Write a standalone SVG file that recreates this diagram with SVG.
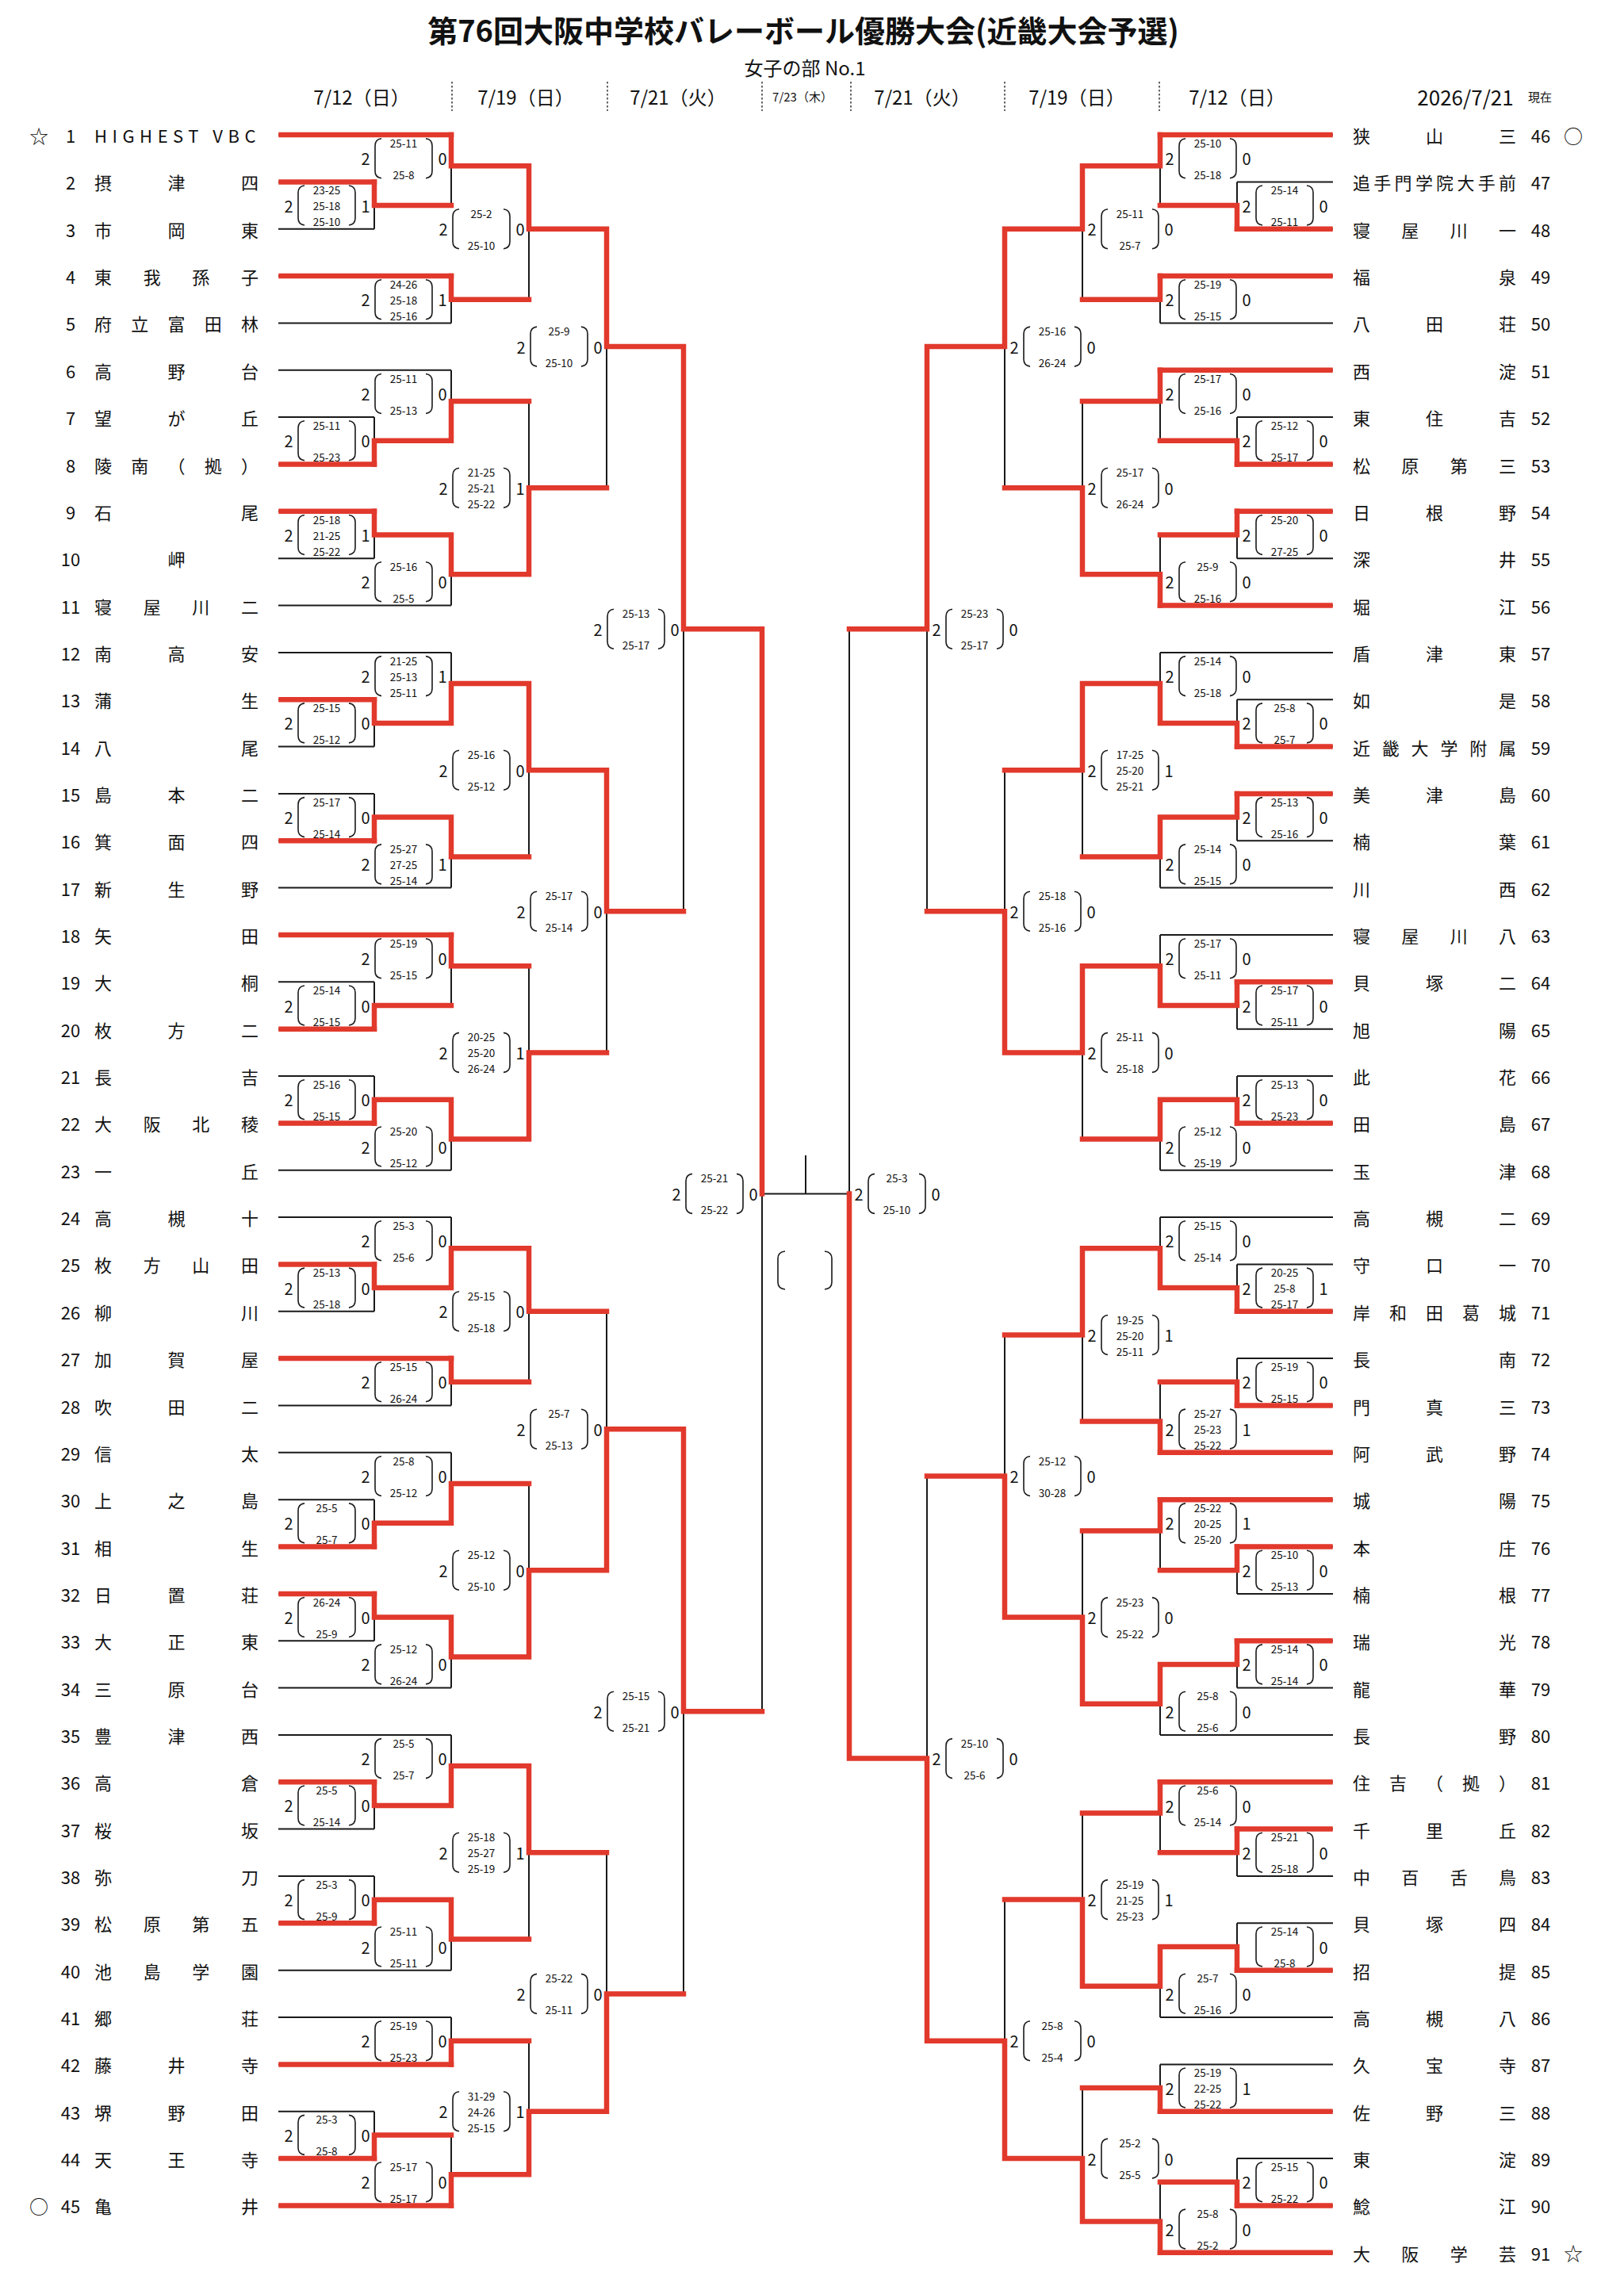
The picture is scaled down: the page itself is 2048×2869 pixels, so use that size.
<svg xmlns="http://www.w3.org/2000/svg" xmlns:xlink="http://www.w3.org/1999/xlink" width="2048" height="2869" viewBox="0 0 2048 2869">
<style>
text{font-family:"Noto Sans CJK JP","Noto Sans",sans-serif;fill:#111;dominant-baseline:central}
.ttl{font-size:38px;font-weight:700;text-anchor:middle}
.sub{font-size:24px;text-anchor:middle}
.dt{font-size:24px;text-anchor:middle}
.dts{font-size:15px;text-anchor:middle}
.nm{font-size:22px}
.no{font-size:22px;text-anchor:middle}
.mk{font-size:24px;text-anchor:middle}
.lb text{font-size:20px;text-anchor:middle}
.lb text.s{font-size:13.5px}
.bk{fill:none;stroke:#1a1a1a;stroke-width:2}
.rd{fill:none;stroke:#e1392c;stroke-width:6.5;stroke-linecap:square;stroke-linejoin:miter}
.dot{fill:none;stroke:#333;stroke-width:1.5;stroke-dasharray:2.5 2.5}
</style>
<defs>
<path id="pp" d="M-28 -25Q-36 -24 -36 -16V16Q-36 24 -28 25M28 -25Q36 -24 36 -16V16Q36 24 28 25" fill="none" stroke="#1a1a1a" stroke-width="1.6"/>
</defs>
<rect width="2048" height="2869" fill="#fff"/>
<g id="header">
<text class="ttl" x="1013" y="36">第76回大阪中学校バレーボール優勝大会(近畿大会予選)</text>
<text class="sub" x="1015" y="84">女子の部 No.1</text>
<text class="dt" x="456" y="121">7/12（日）</text>
<text class="dt" x="663" y="121">7/19（日）</text>
<text class="dt" x="855" y="121">7/21（火）</text>
<text class="dts" x="1012" y="121">7/23（木）</text>
<text class="dt" x="1163" y="121">7/21（火）</text>
<text class="dt" x="1358" y="121">7/19（日）</text>
<text class="dt" x="1560" y="121">7/12（日）</text>
<text class="dt" x="1848" y="121" style="font-size:26px">2026/7/21</text>
<text class="dts" x="1942" y="121">現在</text>
<path class="dot" d="M570 103V140M766 103V140M961 103V140M1073 103V140M1267 103V140M1462 103V140"/>
</g>
<g id="connectors">
<path class="bk" d="M351 170H569M351 229.4H472M351 288.7H472M351 348.1H569M351 407.4H569M351 466.8H569M351 526.1H472M351 585.5H472M351 644.8H472M351 704.2H472M351 763.5H569M351 822.9H569M351 882.2H472M351 941.6H472M351 1000.9H472M351 1060.3H472M351 1119.6H569M351 1179H569M351 1238.3H472M351 1297.7H472M351 1357H472M351 1416.4H472M351 1475.7H569M351 1535.1H569M351 1594.4H472M351 1653.8H472M351 1713.1H569M351 1772.5H569M351 1831.8H569M351 1891.2H472M351 1950.5H472M351 2009.9H472M351 2069.2H472M351 2128.6H569M351 2187.9H569M351 2247.3H472M351 2306.6H472M351 2366H472M351 2425.3H472M351 2484.7H569M351 2544H569M351 2603.4H569M351 2662.7H472M351 2722.1H472M351 2781.4H569"/>
<path class="bk" d="M472 229.4V288.7M472 259.05H569M569 170V259.05M569 209.2H667M569 348.1V407.4M569 377.75H667M667 209.2V377.75M667 288.7H765M472 526.1V585.5M472 555.8H569M569 466.8V555.8M569 506H667M472 644.8V704.2M472 674.5H569M569 674.5V763.5M569 724.3H667M667 506V724.3M667 615.2H765M765 288.7V615.2M765 437.1H862M472 882.2V941.6M472 911.9H569M569 822.9V911.9M569 862.1H667M472 1000.9V1060.3M472 1030.6H569M569 1030.6V1119.6M569 1080.4H667M667 862.1V1080.4M667 971.3H765M472 1238.3V1297.7M472 1268H569M569 1179V1268M569 1218.2H667M472 1357V1416.4M472 1386.7H569M569 1386.7V1475.7M569 1436.5H667M667 1218.2V1436.5M667 1327.4H765M765 971.3V1327.4M765 1149.3H862M862 437.1V1149.3M862 793.2H961M472 1594.4V1653.8M472 1624.1H569M569 1535.1V1624.1M569 1574.3H667M569 1713.1V1772.5M569 1742.8H667M667 1574.3V1742.8M667 1653.8H765M472 1891.2V1950.5M472 1920.85H569M569 1831.8V1920.85M569 1871H667M472 2009.9V2069.2M472 2039.55H569M569 2039.55V2128.6M569 2089.4H667M667 1871V2089.4M667 1980.2H765M765 1653.8V1980.2M765 1802.2H862M472 2247.3V2306.6M472 2276.95H569M569 2187.9V2276.95M569 2227.1H667M472 2366V2425.3M472 2395.65H569M569 2395.65V2484.7M569 2445.5H667M667 2227.1V2445.5M667 2336.3H765M569 2544V2603.4M569 2573.7H667M472 2662.7V2722.1M472 2692.4H569M569 2692.4V2781.4M569 2742.2H667M667 2573.7V2742.2M667 2662.7H765M765 2336.3V2662.7M765 2514.4H862M862 1802.2V2514.4M862 2158.3H961M961 793.2V2158.3M961 1505.4H1071M1016 1457V1505.4M1071 793.2V2217.6"/>
<path class="bk" d="M1463 170H1681M1560 229.4H1681M1560 288.7H1681M1463 348.1H1681M1463 407.4H1681M1463 466.8H1681M1560 526.1H1681M1560 585.5H1681M1560 644.8H1681M1560 704.2H1681M1463 763.5H1681M1463 822.9H1681M1560 882.2H1681M1560 941.6H1681M1560 1000.9H1681M1560 1060.3H1681M1463 1119.6H1681M1463 1179H1681M1560 1238.3H1681M1560 1297.7H1681M1560 1357H1681M1560 1416.4H1681M1463 1475.7H1681M1463 1535.1H1681M1560 1594.4H1681M1560 1653.8H1681M1560 1713.1H1681M1560 1772.5H1681M1463 1831.8H1681M1463 1891.2H1681M1560 1950.5H1681M1560 2009.9H1681M1560 2069.2H1681M1560 2128.6H1681M1463 2187.9H1681M1463 2247.3H1681M1560 2306.6H1681M1560 2366H1681M1560 2425.3H1681M1560 2484.7H1681M1463 2544H1681M1463 2603.4H1681M1463 2662.7H1681M1560 2722.1H1681M1560 2781.4H1681M1463 2840.8H1681"/>
<path class="bk" d="M1560 229.4V288.7M1560 259.05H1463M1463 170V259.05M1463 209.2H1365M1463 348.1V407.4M1463 377.75H1365M1365 209.2V377.75M1365 288.7H1267M1560 526.1V585.5M1560 555.8H1463M1463 466.8V555.8M1463 506H1365M1560 644.8V704.2M1560 674.5H1463M1463 674.5V763.5M1463 724.3H1365M1365 506V724.3M1365 615.2H1267M1267 288.7V615.2M1267 437.1H1169M1560 882.2V941.6M1560 911.9H1463M1463 822.9V911.9M1463 862.1H1365M1560 1000.9V1060.3M1560 1030.6H1463M1463 1030.6V1119.6M1463 1080.4H1365M1365 862.1V1080.4M1365 971.3H1267M1560 1238.3V1297.7M1560 1268H1463M1463 1179V1268M1463 1218.2H1365M1560 1357V1416.4M1560 1386.7H1463M1463 1386.7V1475.7M1463 1436.5H1365M1365 1218.2V1436.5M1365 1327.4H1267M1267 971.3V1327.4M1267 1149.3H1169M1169 437.1V1149.3M1169 793.2H1071M1560 1594.4V1653.8M1560 1624.1H1463M1463 1535.1V1624.1M1463 1574.3H1365M1560 1713.1V1772.5M1560 1742.8H1463M1463 1742.8V1831.8M1463 1792.6H1365M1365 1574.3V1792.6M1365 1683.5H1267M1560 1950.5V2009.9M1560 1980.2H1463M1463 1891.2V1980.2M1463 1930.4H1365M1560 2069.2V2128.6M1560 2098.9H1463M1463 2098.9V2187.9M1463 2148.7H1365M1365 1930.4V2148.7M1365 2039.6H1267M1267 1683.5V2039.6M1267 1861.5H1169M1560 2306.6V2366M1560 2336.3H1463M1463 2247.3V2336.3M1463 2286.5H1365M1560 2425.3V2484.7M1560 2455H1463M1463 2455V2544M1463 2504.8H1365M1365 2286.5V2504.8M1365 2395.6H1267M1463 2603.4V2662.7M1463 2633.05H1365M1560 2722.1V2781.4M1560 2751.75H1463M1463 2751.75V2840.8M1463 2801.6H1365M1365 2633.05V2801.6M1365 2722.1H1267M1267 2395.6V2722.1M1267 2573.7H1169M1169 1861.5V2573.7M1169 2217.6H1071"/>
<path d="M990 1578Q981 1579 981 1587V1617Q981 1625 990 1626M1040 1578Q1049 1579 1049 1587V1617Q1049 1625 1040 1626" fill="none" stroke="#1a1a1a" stroke-width="1.6"/>
<path class="rd" d="M354.5 170H569M354.5 229.4H472M354.5 348.1H569M354.5 585.5H472M354.5 644.8H472M354.5 882.2H472M354.5 1060.3H472M354.5 1179H569M354.5 1297.7H472M354.5 1416.4H472M354.5 1594.4H472M354.5 1713.1H569M354.5 1950.5H472M354.5 2009.9H472M354.5 2247.3H472M354.5 2425.3H472M354.5 2603.4H569M354.5 2722.1H472M354.5 2781.4H569"/>
<path class="rd" d="M472 229.4V259.05H569M569 170V209.2H667M569 348.1V377.75H667M667 209.2V288.7H765M472 585.5V555.8H569M569 555.8V506H667M472 644.8V674.5H569M569 674.5V724.3H667M667 724.3V615.2H765M765 288.7V437.1H862M472 882.2V911.9H569M569 911.9V862.1H667M472 1060.3V1030.6H569M569 1030.6V1080.4H667M667 862.1V971.3H765M472 1297.7V1268H569M569 1179V1218.2H667M472 1416.4V1386.7H569M569 1386.7V1436.5H667M667 1436.5V1327.4H765M765 971.3V1149.3H862M862 437.1V793.2H961M472 1594.4V1624.1H569M569 1624.1V1574.3H667M569 1713.1V1742.8H667M667 1574.3V1653.8H765M472 1950.5V1920.85H569M569 1920.85V1871H667M472 2009.9V2039.55H569M569 2039.55V2089.4H667M667 2089.4V1980.2H765M765 1980.2V1802.2H862M472 2247.3V2276.95H569M569 2276.95V2227.1H667M472 2425.3V2395.65H569M569 2395.65V2445.5H667M667 2227.1V2336.3H765M569 2603.4V2573.7H667M472 2722.1V2692.4H569M569 2781.4V2742.2H667M667 2742.2V2662.7H765M765 2662.7V2514.4H862M862 1802.2V2158.3H961M961 793.2V1505.4"/>
<path class="rd" d="M1463 170H1677.5M1560 288.7H1677.5M1463 348.1H1677.5M1463 466.8H1677.5M1560 585.5H1677.5M1560 644.8H1677.5M1463 763.5H1677.5M1560 941.6H1677.5M1560 1000.9H1677.5M1560 1238.3H1677.5M1560 1416.4H1677.5M1560 1653.8H1677.5M1560 1772.5H1677.5M1463 1831.8H1677.5M1463 1891.2H1677.5M1560 1950.5H1677.5M1560 2069.2H1677.5M1463 2247.3H1677.5M1560 2306.6H1677.5M1560 2484.7H1677.5M1463 2662.7H1677.5M1560 2781.4H1677.5M1463 2840.8H1677.5"/>
<path class="rd" d="M1560 288.7V259.05H1463M1463 170V209.2H1365M1463 348.1V377.75H1365M1365 209.2V288.7H1267M1560 585.5V555.8H1463M1463 466.8V506H1365M1560 644.8V674.5H1463M1463 763.5V724.3H1365M1365 724.3V615.2H1267M1267 288.7V437.1H1169M1560 941.6V911.9H1463M1463 911.9V862.1H1365M1560 1000.9V1030.6H1463M1463 1030.6V1080.4H1365M1365 862.1V971.3H1267M1560 1238.3V1268H1463M1463 1268V1218.2H1365M1560 1416.4V1386.7H1463M1463 1386.7V1436.5H1365M1365 1218.2V1327.4H1267M1267 1327.4V1149.3H1169M1169 437.1V793.2H1071M1560 1653.8V1624.1H1463M1463 1624.1V1574.3H1365M1560 1772.5V1742.8H1463M1463 1831.8V1792.6H1365M1365 1574.3V1683.5H1267M1560 1950.5V1980.2H1463M1463 1891.2V1930.4H1365M1560 2069.2V2098.9H1463M1463 2098.9V2148.7H1365M1365 2148.7V2039.6H1267M1267 2039.6V1861.5H1169M1560 2306.6V2336.3H1463M1463 2247.3V2286.5H1365M1560 2484.7V2455H1463M1463 2455V2504.8H1365M1365 2504.8V2395.6H1267M1463 2662.7V2633.05H1365M1560 2781.4V2751.75H1463M1463 2840.8V2801.6H1365M1365 2801.6V2722.1H1267M1267 2722.1V2573.7H1169M1169 2573.7V2217.6H1071M1071 2217.6V1505.4"/>
</g>
<g id="teams-left">
<g id="t1"><text class="mk" x="49" y="170">☆</text><text class="no" x="89" y="170">1</text><text class="nm" x="119" y="170" letter-spacing="6.5">HIGHEST VBC</text></g>
<g id="t2"><text class="no" x="89" y="229.4">2</text><text class="nm" x="119 211.5 304" y="229.4">摂津四</text></g>
<g id="t3"><text class="no" x="89" y="288.7">3</text><text class="nm" x="119 211.5 304" y="288.7">市岡東</text></g>
<g id="t4"><text class="no" x="89" y="348.1">4</text><text class="nm" x="119 180.7 242.3 304" y="348.1">東我孫子</text></g>
<g id="t5"><text class="no" x="89" y="407.4">5</text><text class="nm" x="119 165.3 211.5 257.8 304" y="407.4">府立富田林</text></g>
<g id="t6"><text class="no" x="89" y="466.8">6</text><text class="nm" x="119 211.5 304" y="466.8">高野台</text></g>
<g id="t7"><text class="no" x="89" y="526.1">7</text><text class="nm" x="119 211.5 304" y="526.1">望が丘</text></g>
<g id="t8"><text class="no" x="89" y="585.5">8</text><text class="nm" x="119 165.3 211.5 257.8 304" y="585.5">陵南（拠）</text></g>
<g id="t9"><text class="no" x="89" y="644.8">9</text><text class="nm" x="119 304" y="644.8">石尾</text></g>
<g id="t10"><text class="no" x="89" y="704.2">10</text><text class="nm" x="211.5" y="704.2">岬</text></g>
<g id="t11"><text class="no" x="89" y="763.5">11</text><text class="nm" x="119 180.7 242.3 304" y="763.5">寝屋川二</text></g>
<g id="t12"><text class="no" x="89" y="822.9">12</text><text class="nm" x="119 211.5 304" y="822.9">南高安</text></g>
<g id="t13"><text class="no" x="89" y="882.2">13</text><text class="nm" x="119 304" y="882.2">蒲生</text></g>
<g id="t14"><text class="no" x="89" y="941.6">14</text><text class="nm" x="119 304" y="941.6">八尾</text></g>
<g id="t15"><text class="no" x="89" y="1000.9">15</text><text class="nm" x="119 211.5 304" y="1000.9">島本二</text></g>
<g id="t16"><text class="no" x="89" y="1060.3">16</text><text class="nm" x="119 211.5 304" y="1060.3">箕面四</text></g>
<g id="t17"><text class="no" x="89" y="1119.6">17</text><text class="nm" x="119 211.5 304" y="1119.6">新生野</text></g>
<g id="t18"><text class="no" x="89" y="1179">18</text><text class="nm" x="119 304" y="1179">矢田</text></g>
<g id="t19"><text class="no" x="89" y="1238.3">19</text><text class="nm" x="119 304" y="1238.3">大桐</text></g>
<g id="t20"><text class="no" x="89" y="1297.7">20</text><text class="nm" x="119 211.5 304" y="1297.7">枚方二</text></g>
<g id="t21"><text class="no" x="89" y="1357">21</text><text class="nm" x="119 304" y="1357">長吉</text></g>
<g id="t22"><text class="no" x="89" y="1416.4">22</text><text class="nm" x="119 180.7 242.3 304" y="1416.4">大阪北稜</text></g>
<g id="t23"><text class="no" x="89" y="1475.7">23</text><text class="nm" x="119 304" y="1475.7">一丘</text></g>
<g id="t24"><text class="no" x="89" y="1535.1">24</text><text class="nm" x="119 211.5 304" y="1535.1">高槻十</text></g>
<g id="t25"><text class="no" x="89" y="1594.4">25</text><text class="nm" x="119 180.7 242.3 304" y="1594.4">枚方山田</text></g>
<g id="t26"><text class="no" x="89" y="1653.8">26</text><text class="nm" x="119 304" y="1653.8">柳川</text></g>
<g id="t27"><text class="no" x="89" y="1713.1">27</text><text class="nm" x="119 211.5 304" y="1713.1">加賀屋</text></g>
<g id="t28"><text class="no" x="89" y="1772.5">28</text><text class="nm" x="119 211.5 304" y="1772.5">吹田二</text></g>
<g id="t29"><text class="no" x="89" y="1831.8">29</text><text class="nm" x="119 304" y="1831.8">信太</text></g>
<g id="t30"><text class="no" x="89" y="1891.2">30</text><text class="nm" x="119 211.5 304" y="1891.2">上之島</text></g>
<g id="t31"><text class="no" x="89" y="1950.5">31</text><text class="nm" x="119 304" y="1950.5">相生</text></g>
<g id="t32"><text class="no" x="89" y="2009.9">32</text><text class="nm" x="119 211.5 304" y="2009.9">日置荘</text></g>
<g id="t33"><text class="no" x="89" y="2069.2">33</text><text class="nm" x="119 211.5 304" y="2069.2">大正東</text></g>
<g id="t34"><text class="no" x="89" y="2128.6">34</text><text class="nm" x="119 211.5 304" y="2128.6">三原台</text></g>
<g id="t35"><text class="no" x="89" y="2187.9">35</text><text class="nm" x="119 211.5 304" y="2187.9">豊津西</text></g>
<g id="t36"><text class="no" x="89" y="2247.3">36</text><text class="nm" x="119 304" y="2247.3">高倉</text></g>
<g id="t37"><text class="no" x="89" y="2306.6">37</text><text class="nm" x="119 304" y="2306.6">桜坂</text></g>
<g id="t38"><text class="no" x="89" y="2366">38</text><text class="nm" x="119 304" y="2366">弥刀</text></g>
<g id="t39"><text class="no" x="89" y="2425.3">39</text><text class="nm" x="119 180.7 242.3 304" y="2425.3">松原第五</text></g>
<g id="t40"><text class="no" x="89" y="2484.7">40</text><text class="nm" x="119 180.7 242.3 304" y="2484.7">池島学園</text></g>
<g id="t41"><text class="no" x="89" y="2544">41</text><text class="nm" x="119 304" y="2544">郷荘</text></g>
<g id="t42"><text class="no" x="89" y="2603.4">42</text><text class="nm" x="119 211.5 304" y="2603.4">藤井寺</text></g>
<g id="t43"><text class="no" x="89" y="2662.7">43</text><text class="nm" x="119 211.5 304" y="2662.7">堺野田</text></g>
<g id="t44"><text class="no" x="89" y="2722.1">44</text><text class="nm" x="119 211.5 304" y="2722.1">天王寺</text></g>
<g id="t45"><text class="mk" x="49" y="2781.4">○</text><text class="no" x="89" y="2781.4">45</text><text class="nm" x="119 304" y="2781.4">亀井</text></g>
</g>
<g id="teams-right">
<g id="t46"><text class="nm" x="1706 1798 1890" y="170">狭山三</text><text class="no" x="1943" y="170">46</text><text class="mk" x="1984" y="170">○</text></g>
<g id="t47"><text class="nm" x="1706 1732.3 1758.6 1784.9 1811.1 1837.4 1863.7 1890" y="229.4">追手門学院大手前</text><text class="no" x="1943" y="229.4">47</text></g>
<g id="t48"><text class="nm" x="1706 1767.3 1828.7 1890" y="288.7">寝屋川一</text><text class="no" x="1943" y="288.7">48</text></g>
<g id="t49"><text class="nm" x="1706 1890" y="348.1">福泉</text><text class="no" x="1943" y="348.1">49</text></g>
<g id="t50"><text class="nm" x="1706 1798 1890" y="407.4">八田荘</text><text class="no" x="1943" y="407.4">50</text></g>
<g id="t51"><text class="nm" x="1706 1890" y="466.8">西淀</text><text class="no" x="1943" y="466.8">51</text></g>
<g id="t52"><text class="nm" x="1706 1798 1890" y="526.1">東住吉</text><text class="no" x="1943" y="526.1">52</text></g>
<g id="t53"><text class="nm" x="1706 1767.3 1828.7 1890" y="585.5">松原第三</text><text class="no" x="1943" y="585.5">53</text></g>
<g id="t54"><text class="nm" x="1706 1798 1890" y="644.8">日根野</text><text class="no" x="1943" y="644.8">54</text></g>
<g id="t55"><text class="nm" x="1706 1890" y="704.2">深井</text><text class="no" x="1943" y="704.2">55</text></g>
<g id="t56"><text class="nm" x="1706 1890" y="763.5">堀江</text><text class="no" x="1943" y="763.5">56</text></g>
<g id="t57"><text class="nm" x="1706 1798 1890" y="822.9">盾津東</text><text class="no" x="1943" y="822.9">57</text></g>
<g id="t58"><text class="nm" x="1706 1890" y="882.2">如是</text><text class="no" x="1943" y="882.2">58</text></g>
<g id="t59"><text class="nm" x="1706 1742.8 1779.6 1816.4 1853.2 1890" y="941.6">近畿大学附属</text><text class="no" x="1943" y="941.6">59</text></g>
<g id="t60"><text class="nm" x="1706 1798 1890" y="1000.9">美津島</text><text class="no" x="1943" y="1000.9">60</text></g>
<g id="t61"><text class="nm" x="1706 1890" y="1060.3">楠葉</text><text class="no" x="1943" y="1060.3">61</text></g>
<g id="t62"><text class="nm" x="1706 1890" y="1119.6">川西</text><text class="no" x="1943" y="1119.6">62</text></g>
<g id="t63"><text class="nm" x="1706 1767.3 1828.7 1890" y="1179">寝屋川八</text><text class="no" x="1943" y="1179">63</text></g>
<g id="t64"><text class="nm" x="1706 1798 1890" y="1238.3">貝塚二</text><text class="no" x="1943" y="1238.3">64</text></g>
<g id="t65"><text class="nm" x="1706 1890" y="1297.7">旭陽</text><text class="no" x="1943" y="1297.7">65</text></g>
<g id="t66"><text class="nm" x="1706 1890" y="1357">此花</text><text class="no" x="1943" y="1357">66</text></g>
<g id="t67"><text class="nm" x="1706 1890" y="1416.4">田島</text><text class="no" x="1943" y="1416.4">67</text></g>
<g id="t68"><text class="nm" x="1706 1890" y="1475.7">玉津</text><text class="no" x="1943" y="1475.7">68</text></g>
<g id="t69"><text class="nm" x="1706 1798 1890" y="1535.1">高槻二</text><text class="no" x="1943" y="1535.1">69</text></g>
<g id="t70"><text class="nm" x="1706 1798 1890" y="1594.4">守口一</text><text class="no" x="1943" y="1594.4">70</text></g>
<g id="t71"><text class="nm" x="1706 1752 1798 1844 1890" y="1653.8">岸和田葛城</text><text class="no" x="1943" y="1653.8">71</text></g>
<g id="t72"><text class="nm" x="1706 1890" y="1713.1">長南</text><text class="no" x="1943" y="1713.1">72</text></g>
<g id="t73"><text class="nm" x="1706 1798 1890" y="1772.5">門真三</text><text class="no" x="1943" y="1772.5">73</text></g>
<g id="t74"><text class="nm" x="1706 1798 1890" y="1831.8">阿武野</text><text class="no" x="1943" y="1831.8">74</text></g>
<g id="t75"><text class="nm" x="1706 1890" y="1891.2">城陽</text><text class="no" x="1943" y="1891.2">75</text></g>
<g id="t76"><text class="nm" x="1706 1890" y="1950.5">本庄</text><text class="no" x="1943" y="1950.5">76</text></g>
<g id="t77"><text class="nm" x="1706 1890" y="2009.9">楠根</text><text class="no" x="1943" y="2009.9">77</text></g>
<g id="t78"><text class="nm" x="1706 1890" y="2069.2">瑞光</text><text class="no" x="1943" y="2069.2">78</text></g>
<g id="t79"><text class="nm" x="1706 1890" y="2128.6">龍華</text><text class="no" x="1943" y="2128.6">79</text></g>
<g id="t80"><text class="nm" x="1706 1890" y="2187.9">長野</text><text class="no" x="1943" y="2187.9">80</text></g>
<g id="t81"><text class="nm" x="1706 1752 1798 1844 1890" y="2247.3">住吉（拠）</text><text class="no" x="1943" y="2247.3">81</text></g>
<g id="t82"><text class="nm" x="1706 1798 1890" y="2306.6">千里丘</text><text class="no" x="1943" y="2306.6">82</text></g>
<g id="t83"><text class="nm" x="1706 1767.3 1828.7 1890" y="2366">中百舌鳥</text><text class="no" x="1943" y="2366">83</text></g>
<g id="t84"><text class="nm" x="1706 1798 1890" y="2425.3">貝塚四</text><text class="no" x="1943" y="2425.3">84</text></g>
<g id="t85"><text class="nm" x="1706 1890" y="2484.7">招提</text><text class="no" x="1943" y="2484.7">85</text></g>
<g id="t86"><text class="nm" x="1706 1798 1890" y="2544">高槻八</text><text class="no" x="1943" y="2544">86</text></g>
<g id="t87"><text class="nm" x="1706 1798 1890" y="2603.4">久宝寺</text><text class="no" x="1943" y="2603.4">87</text></g>
<g id="t88"><text class="nm" x="1706 1798 1890" y="2662.7">佐野三</text><text class="no" x="1943" y="2662.7">88</text></g>
<g id="t89"><text class="nm" x="1706 1890" y="2722.1">東淀</text><text class="no" x="1943" y="2722.1">89</text></g>
<g id="t90"><text class="nm" x="1706 1890" y="2781.4">鯰江</text><text class="no" x="1943" y="2781.4">90</text></g>
<g id="t91"><text class="nm" x="1706 1767.3 1828.7 1890" y="2840.8">大阪学芸</text><text class="no" x="1943" y="2840.8">91</text><text class="mk" x="1984" y="2840.8">☆</text></g>
</g>
<g id="scores" class="lb">
<g id="mA1" transform="translate(412 259.05)"><text x="-48">2</text><use href="#pp"/><text class="s" y="-20">23-25</text><text class="s">25-18</text><text class="s" y="20">25-10</text><text x="49">1</text></g>
<g id="mA2" transform="translate(509 199.7)"><text x="-48">2</text><use href="#pp"/><text class="s" y="-20">25-11</text><text class="s" y="20">25-8</text><text x="49">0</text></g>
<g id="mA3" transform="translate(509 377.75)"><text x="-48">2</text><use href="#pp"/><text class="s" y="-20">24-26</text><text class="s">25-18</text><text class="s" y="20">25-16</text><text x="49">1</text></g>
<g id="mA4" transform="translate(607 288.7)"><text x="-48">2</text><use href="#pp"/><text class="s" y="-20">25-2</text><text class="s" y="20">25-10</text><text x="49">0</text></g>
<g id="mB1" transform="translate(412 555.8)"><text x="-48">2</text><use href="#pp"/><text class="s" y="-20">25-11</text><text class="s" y="20">25-23</text><text x="49">0</text></g>
<g id="mB2" transform="translate(509 496.5)"><text x="-48">2</text><use href="#pp"/><text class="s" y="-20">25-11</text><text class="s" y="20">25-13</text><text x="49">0</text></g>
<g id="mB3" transform="translate(412 674.5)"><text x="-48">2</text><use href="#pp"/><text class="s" y="-20">25-18</text><text class="s">21-25</text><text class="s" y="20">25-22</text><text x="49">1</text></g>
<g id="mB4" transform="translate(509 733.8)"><text x="-48">2</text><use href="#pp"/><text class="s" y="-20">25-16</text><text class="s" y="20">25-5</text><text x="49">0</text></g>
<g id="mB5" transform="translate(607 615.2)"><text x="-48">2</text><use href="#pp"/><text class="s" y="-20">21-25</text><text class="s">25-21</text><text class="s" y="20">25-22</text><text x="49">1</text></g>
<g id="mQ1a" transform="translate(705 437.1)"><text x="-48">2</text><use href="#pp"/><text class="s" y="-20">25-9</text><text class="s" y="20">25-10</text><text x="49">0</text></g>
<g id="mC1" transform="translate(412 911.9)"><text x="-48">2</text><use href="#pp"/><text class="s" y="-20">25-15</text><text class="s" y="20">25-12</text><text x="49">0</text></g>
<g id="mC2" transform="translate(509 852.6)"><text x="-48">2</text><use href="#pp"/><text class="s" y="-20">21-25</text><text class="s">25-13</text><text class="s" y="20">25-11</text><text x="49">1</text></g>
<g id="mC3" transform="translate(412 1030.6)"><text x="-48">2</text><use href="#pp"/><text class="s" y="-20">25-17</text><text class="s" y="20">25-14</text><text x="49">0</text></g>
<g id="mC4" transform="translate(509 1089.9)"><text x="-48">2</text><use href="#pp"/><text class="s" y="-20">25-27</text><text class="s">27-25</text><text class="s" y="20">25-14</text><text x="49">1</text></g>
<g id="mC5" transform="translate(607 971.3)"><text x="-48">2</text><use href="#pp"/><text class="s" y="-20">25-16</text><text class="s" y="20">25-12</text><text x="49">0</text></g>
<g id="mD1" transform="translate(412 1268)"><text x="-48">2</text><use href="#pp"/><text class="s" y="-20">25-14</text><text class="s" y="20">25-15</text><text x="49">0</text></g>
<g id="mD2" transform="translate(509 1208.7)"><text x="-48">2</text><use href="#pp"/><text class="s" y="-20">25-19</text><text class="s" y="20">25-15</text><text x="49">0</text></g>
<g id="mD4" transform="translate(412 1386.7)"><text x="-48">2</text><use href="#pp"/><text class="s" y="-20">25-16</text><text class="s" y="20">25-15</text><text x="49">0</text></g>
<g id="mD5" transform="translate(509 1446)"><text x="-48">2</text><use href="#pp"/><text class="s" y="-20">25-20</text><text class="s" y="20">25-12</text><text x="49">0</text></g>
<g id="mD3" transform="translate(607 1327.4)"><text x="-48">2</text><use href="#pp"/><text class="s" y="-20">20-25</text><text class="s">25-20</text><text class="s" y="20">26-24</text><text x="49">1</text></g>
<g id="mQ2a" transform="translate(705 1149.3)"><text x="-48">2</text><use href="#pp"/><text class="s" y="-20">25-17</text><text class="s" y="20">25-14</text><text x="49">0</text></g>
<g id="mQ12" transform="translate(802 793.2)"><text x="-48">2</text><use href="#pp"/><text class="s" y="-20">25-13</text><text class="s" y="20">25-17</text><text x="49">0</text></g>
<g id="mE1" transform="translate(412 1624.1)"><text x="-48">2</text><use href="#pp"/><text class="s" y="-20">25-13</text><text class="s" y="20">25-18</text><text x="49">0</text></g>
<g id="mE2" transform="translate(509 1564.8)"><text x="-48">2</text><use href="#pp"/><text class="s" y="-20">25-3</text><text class="s" y="20">25-6</text><text x="49">0</text></g>
<g id="mE3" transform="translate(509 1742.8)"><text x="-48">2</text><use href="#pp"/><text class="s" y="-20">25-15</text><text class="s" y="20">26-24</text><text x="49">0</text></g>
<g id="mE4" transform="translate(607 1653.8)"><text x="-48">2</text><use href="#pp"/><text class="s" y="-20">25-15</text><text class="s" y="20">25-18</text><text x="49">0</text></g>
<g id="mF1" transform="translate(412 1920.85)"><text x="-48">2</text><use href="#pp"/><text class="s" y="-20">25-5</text><text class="s" y="20">25-7</text><text x="49">0</text></g>
<g id="mF2" transform="translate(509 1861.5)"><text x="-48">2</text><use href="#pp"/><text class="s" y="-20">25-8</text><text class="s" y="20">25-12</text><text x="49">0</text></g>
<g id="mF3" transform="translate(412 2039.55)"><text x="-48">2</text><use href="#pp"/><text class="s" y="-20">26-24</text><text class="s" y="20">25-9</text><text x="49">0</text></g>
<g id="mF4" transform="translate(509 2098.9)"><text x="-48">2</text><use href="#pp"/><text class="s" y="-20">25-12</text><text class="s" y="20">26-24</text><text x="49">0</text></g>
<g id="mF5" transform="translate(607 1980.2)"><text x="-48">2</text><use href="#pp"/><text class="s" y="-20">25-12</text><text class="s" y="20">25-10</text><text x="49">0</text></g>
<g id="mQ3a" transform="translate(705 1802.2)"><text x="-48">2</text><use href="#pp"/><text class="s" y="-20">25-7</text><text class="s" y="20">25-13</text><text x="49">0</text></g>
<g id="mG1" transform="translate(412 2276.95)"><text x="-48">2</text><use href="#pp"/><text class="s" y="-20">25-5</text><text class="s" y="20">25-14</text><text x="49">0</text></g>
<g id="mG2" transform="translate(509 2217.6)"><text x="-48">2</text><use href="#pp"/><text class="s" y="-20">25-5</text><text class="s" y="20">25-7</text><text x="49">0</text></g>
<g id="mG3" transform="translate(412 2395.65)"><text x="-48">2</text><use href="#pp"/><text class="s" y="-20">25-3</text><text class="s" y="20">25-9</text><text x="49">0</text></g>
<g id="mG4" transform="translate(509 2455)"><text x="-48">2</text><use href="#pp"/><text class="s" y="-20">25-11</text><text class="s" y="20">25-11</text><text x="49">0</text></g>
<g id="mG5" transform="translate(607 2336.3)"><text x="-48">2</text><use href="#pp"/><text class="s" y="-20">25-18</text><text class="s">25-27</text><text class="s" y="20">25-19</text><text x="49">1</text></g>
<g id="mH1" transform="translate(509 2573.7)"><text x="-48">2</text><use href="#pp"/><text class="s" y="-20">25-19</text><text class="s" y="20">25-23</text><text x="49">0</text></g>
<g id="mH2" transform="translate(412 2692.4)"><text x="-48">2</text><use href="#pp"/><text class="s" y="-20">25-3</text><text class="s" y="20">25-8</text><text x="49">0</text></g>
<g id="mH3" transform="translate(509 2751.7)"><text x="-48">2</text><use href="#pp"/><text class="s" y="-20">25-17</text><text class="s" y="20">25-17</text><text x="49">0</text></g>
<g id="mH4" transform="translate(607 2662.7)"><text x="-48">2</text><use href="#pp"/><text class="s" y="-20">31-29</text><text class="s">24-26</text><text class="s" y="20">25-15</text><text x="49">1</text></g>
<g id="mQ4a" transform="translate(705 2514.4)"><text x="-48">2</text><use href="#pp"/><text class="s" y="-20">25-22</text><text class="s" y="20">25-11</text><text x="49">0</text></g>
<g id="mQ34" transform="translate(802 2158.3)"><text x="-48">2</text><use href="#pp"/><text class="s" y="-20">25-15</text><text class="s" y="20">25-21</text><text x="49">0</text></g>
<g id="mSL" transform="translate(901 1505.4)"><text x="-48">2</text><use href="#pp"/><text class="s" y="-20">25-21</text><text class="s" y="20">25-22</text><text x="49">0</text></g>
<g id="mRA1" transform="translate(1620 259.05)"><text x="-48">2</text><use href="#pp"/><text class="s" y="-20">25-14</text><text class="s" y="20">25-11</text><text x="49">0</text></g>
<g id="mRA2" transform="translate(1523 199.7)"><text x="-48">2</text><use href="#pp"/><text class="s" y="-20">25-10</text><text class="s" y="20">25-18</text><text x="49">0</text></g>
<g id="mRA3" transform="translate(1523 377.75)"><text x="-48">2</text><use href="#pp"/><text class="s" y="-20">25-19</text><text class="s" y="20">25-15</text><text x="49">0</text></g>
<g id="mRA4" transform="translate(1425 288.7)"><text x="-48">2</text><use href="#pp"/><text class="s" y="-20">25-11</text><text class="s" y="20">25-7</text><text x="49">0</text></g>
<g id="mRB1" transform="translate(1620 555.8)"><text x="-48">2</text><use href="#pp"/><text class="s" y="-20">25-12</text><text class="s" y="20">25-17</text><text x="49">0</text></g>
<g id="mRB2" transform="translate(1523 496.5)"><text x="-48">2</text><use href="#pp"/><text class="s" y="-20">25-17</text><text class="s" y="20">25-16</text><text x="49">0</text></g>
<g id="mRB3" transform="translate(1620 674.5)"><text x="-48">2</text><use href="#pp"/><text class="s" y="-20">25-20</text><text class="s" y="20">27-25</text><text x="49">0</text></g>
<g id="mRB4" transform="translate(1523 733.8)"><text x="-48">2</text><use href="#pp"/><text class="s" y="-20">25-9</text><text class="s" y="20">25-16</text><text x="49">0</text></g>
<g id="mRB5" transform="translate(1425 615.2)"><text x="-48">2</text><use href="#pp"/><text class="s" y="-20">25-17</text><text class="s" y="20">26-24</text><text x="49">0</text></g>
<g id="mQ1R" transform="translate(1327 437.1)"><text x="-48">2</text><use href="#pp"/><text class="s" y="-20">25-16</text><text class="s" y="20">26-24</text><text x="49">0</text></g>
<g id="mRC1" transform="translate(1620 911.9)"><text x="-48">2</text><use href="#pp"/><text class="s" y="-20">25-8</text><text class="s" y="20">25-7</text><text x="49">0</text></g>
<g id="mRC2" transform="translate(1523 852.6)"><text x="-48">2</text><use href="#pp"/><text class="s" y="-20">25-14</text><text class="s" y="20">25-18</text><text x="49">0</text></g>
<g id="mRC3" transform="translate(1620 1030.6)"><text x="-48">2</text><use href="#pp"/><text class="s" y="-20">25-13</text><text class="s" y="20">25-16</text><text x="49">0</text></g>
<g id="mRC4" transform="translate(1523 1089.9)"><text x="-48">2</text><use href="#pp"/><text class="s" y="-20">25-14</text><text class="s" y="20">25-15</text><text x="49">0</text></g>
<g id="mRC5" transform="translate(1425 971.3)"><text x="-48">2</text><use href="#pp"/><text class="s" y="-20">17-25</text><text class="s">25-20</text><text class="s" y="20">25-21</text><text x="49">1</text></g>
<g id="mRD1" transform="translate(1620 1268)"><text x="-48">2</text><use href="#pp"/><text class="s" y="-20">25-17</text><text class="s" y="20">25-11</text><text x="49">0</text></g>
<g id="mRD2" transform="translate(1523 1208.7)"><text x="-48">2</text><use href="#pp"/><text class="s" y="-20">25-17</text><text class="s" y="20">25-11</text><text x="49">0</text></g>
<g id="mRD3" transform="translate(1620 1386.7)"><text x="-48">2</text><use href="#pp"/><text class="s" y="-20">25-13</text><text class="s" y="20">25-23</text><text x="49">0</text></g>
<g id="mRD4" transform="translate(1523 1446)"><text x="-48">2</text><use href="#pp"/><text class="s" y="-20">25-12</text><text class="s" y="20">25-19</text><text x="49">0</text></g>
<g id="mRD5" transform="translate(1425 1327.4)"><text x="-48">2</text><use href="#pp"/><text class="s" y="-20">25-11</text><text class="s" y="20">25-18</text><text x="49">0</text></g>
<g id="mQ2R" transform="translate(1327 1149.3)"><text x="-48">2</text><use href="#pp"/><text class="s" y="-20">25-18</text><text class="s" y="20">25-16</text><text x="49">0</text></g>
<g id="mQ12R" transform="translate(1229 793.2)"><text x="-48">2</text><use href="#pp"/><text class="s" y="-20">25-23</text><text class="s" y="20">25-17</text><text x="49">0</text></g>
<g id="mRE1" transform="translate(1620 1624.1)"><text x="-48">2</text><use href="#pp"/><text class="s" y="-20">20-25</text><text class="s">25-8</text><text class="s" y="20">25-17</text><text x="49">1</text></g>
<g id="mRE2" transform="translate(1523 1564.8)"><text x="-48">2</text><use href="#pp"/><text class="s" y="-20">25-15</text><text class="s" y="20">25-14</text><text x="49">0</text></g>
<g id="mRE3" transform="translate(1620 1742.8)"><text x="-48">2</text><use href="#pp"/><text class="s" y="-20">25-19</text><text class="s" y="20">25-15</text><text x="49">0</text></g>
<g id="mRE4" transform="translate(1523 1802.1)"><text x="-48">2</text><use href="#pp"/><text class="s" y="-20">25-27</text><text class="s">25-23</text><text class="s" y="20">25-22</text><text x="49">1</text></g>
<g id="mRE5" transform="translate(1425 1683.5)"><text x="-48">2</text><use href="#pp"/><text class="s" y="-20">19-25</text><text class="s">25-20</text><text class="s" y="20">25-11</text><text x="49">1</text></g>
<g id="mRF1" transform="translate(1620 1980.2)"><text x="-48">2</text><use href="#pp"/><text class="s" y="-20">25-10</text><text class="s" y="20">25-13</text><text x="49">0</text></g>
<g id="mRF2" transform="translate(1523 1920.9)"><text x="-48">2</text><use href="#pp"/><text class="s" y="-20">25-22</text><text class="s">20-25</text><text class="s" y="20">25-20</text><text x="49">1</text></g>
<g id="mRF3" transform="translate(1620 2098.9)"><text x="-48">2</text><use href="#pp"/><text class="s" y="-20">25-14</text><text class="s" y="20">25-14</text><text x="49">0</text></g>
<g id="mRF4" transform="translate(1523 2158.2)"><text x="-48">2</text><use href="#pp"/><text class="s" y="-20">25-8</text><text class="s" y="20">25-6</text><text x="49">0</text></g>
<g id="mRF5" transform="translate(1425 2039.6)"><text x="-48">2</text><use href="#pp"/><text class="s" y="-20">25-23</text><text class="s" y="20">25-22</text><text x="49">0</text></g>
<g id="mQ3R" transform="translate(1327 1861.5)"><text x="-48">2</text><use href="#pp"/><text class="s" y="-20">25-12</text><text class="s" y="20">30-28</text><text x="49">0</text></g>
<g id="mRG1" transform="translate(1620 2336.3)"><text x="-48">2</text><use href="#pp"/><text class="s" y="-20">25-21</text><text class="s" y="20">25-18</text><text x="49">0</text></g>
<g id="mRG2" transform="translate(1523 2277)"><text x="-48">2</text><use href="#pp"/><text class="s" y="-20">25-6</text><text class="s" y="20">25-14</text><text x="49">0</text></g>
<g id="mRG3" transform="translate(1620 2455)"><use href="#pp"/><text class="s" y="-20">25-14</text><text class="s" y="20">25-8</text><text x="49">0</text></g>
<g id="mRG4" transform="translate(1523 2514.3)"><text x="-48">2</text><use href="#pp"/><text class="s" y="-20">25-7</text><text class="s" y="20">25-16</text><text x="49">0</text></g>
<g id="mRG5" transform="translate(1425 2395.6)"><text x="-48">2</text><use href="#pp"/><text class="s" y="-20">25-19</text><text class="s">21-25</text><text class="s" y="20">25-23</text><text x="49">1</text></g>
<g id="mRH1" transform="translate(1523 2633.05)"><text x="-48">2</text><use href="#pp"/><text class="s" y="-20">25-19</text><text class="s">22-25</text><text class="s" y="20">25-22</text><text x="49">1</text></g>
<g id="mRH2" transform="translate(1620 2751.75)"><text x="-48">2</text><use href="#pp"/><text class="s" y="-20">25-15</text><text class="s" y="20">25-22</text><text x="49">0</text></g>
<g id="mRH3" transform="translate(1523 2811.1)"><text x="-48">2</text><use href="#pp"/><text class="s" y="-20">25-8</text><text class="s" y="20">25-2</text><text x="49">0</text></g>
<g id="mRH4" transform="translate(1425 2722.1)"><text x="-48">2</text><use href="#pp"/><text class="s" y="-20">25-2</text><text class="s" y="20">25-5</text><text x="49">0</text></g>
<g id="mQ4R" transform="translate(1327 2573.7)"><text x="-48">2</text><use href="#pp"/><text class="s" y="-20">25-8</text><text class="s" y="20">25-4</text><text x="49">0</text></g>
<g id="mQ34R" transform="translate(1229 2217.6)"><text x="-48">2</text><use href="#pp"/><text class="s" y="-20">25-10</text><text class="s" y="20">25-6</text><text x="49">0</text></g>
<g id="mSR" transform="translate(1131 1505.4)"><text x="-48">2</text><use href="#pp"/><text class="s" y="-20">25-3</text><text class="s" y="20">25-10</text><text x="49">0</text></g>
</g>
</svg>
